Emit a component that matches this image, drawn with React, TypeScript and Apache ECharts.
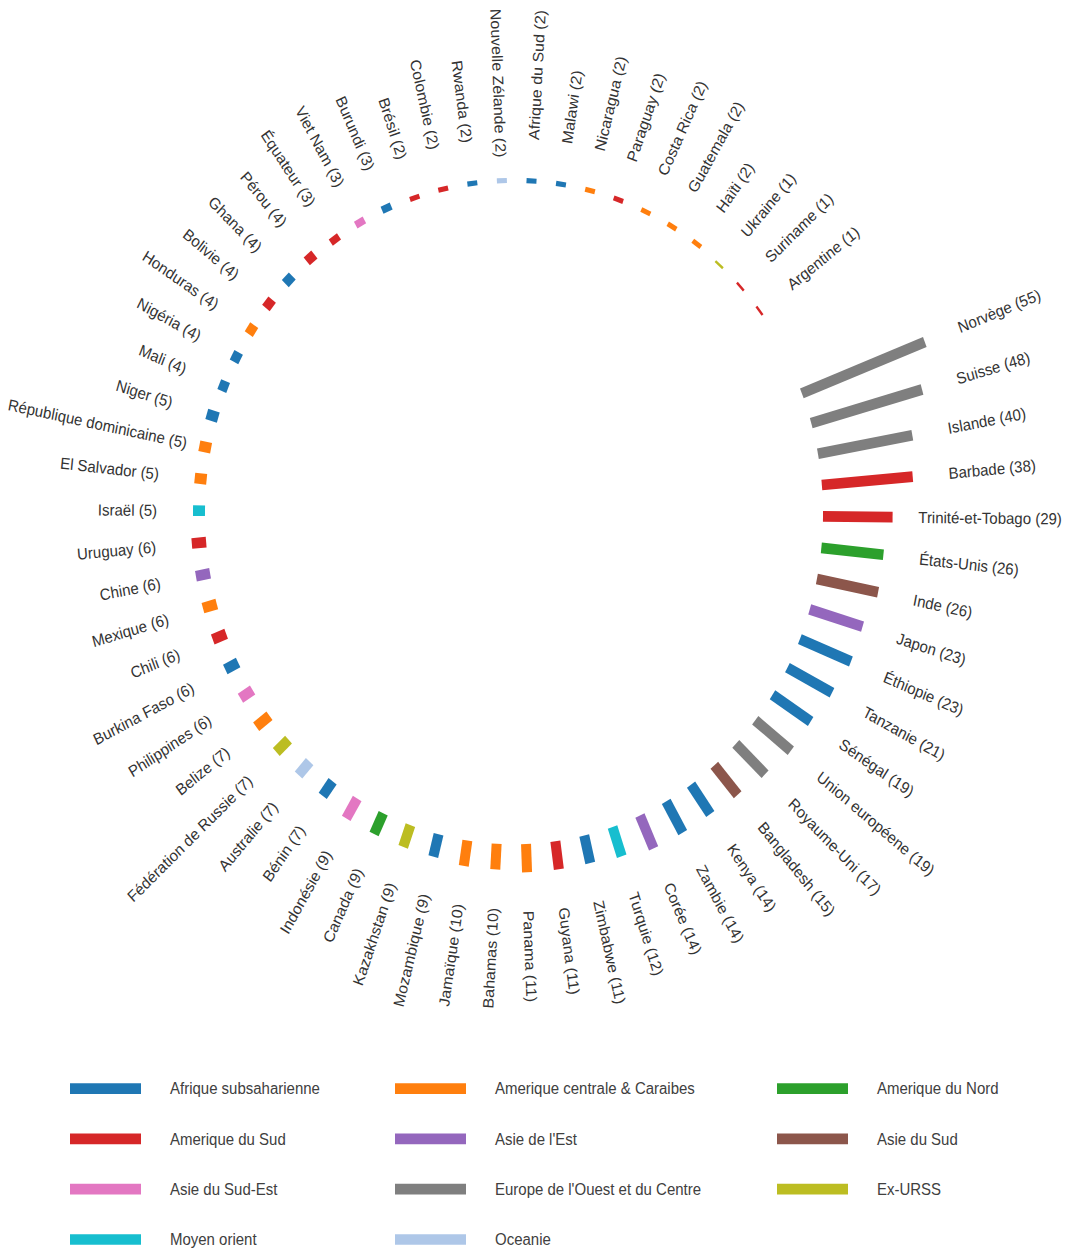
import React, { useEffect, useRef } from "react";
import * as echarts from "echarts";

// Regions (legend order) and their colours
const REGIONS = [
  "Afrique subsaharienne",
  "Amerique centrale & Caraibes",
  "Amerique du Nord",
  "Amerique du Sud",
  "Asie de l'Est",
  "Asie du Sud",
  "Asie du Sud-Est",
  "Europe de l'Ouest et du Centre",
  "Ex-URSS",
  "Moyen orient",
  "Oceanie",
];
const REGION_COLORS = [
  "#1f77b4",
  "#ff7f0e",
  "#2ca02c",
  "#d62728",
  "#9467bd",
  "#8c564b",
  "#e377c2",
  "#7f7f7f",
  "#bcbd22",
  "#17becf",
  "#aec7e8",
];

// Countries, clockwise from Norvège
const COUNTRIES = [
  "Norvège", "Suisse", "Islande", "Barbade", "Trinité-et-Tobago", "États-Unis",
  "Inde", "Japon", "Éthiopie", "Tanzanie", "Sénégal", "Union européene",
  "Royaume-Uni", "Bangladesh", "Kenya", "Zambie", "Corée", "Turquie",
  "Zimbabwe", "Guyana", "Panama", "Bahamas", "Jamaïque", "Mozambique",
  "Kazakhstan", "Canada", "Indonésie", "Bénin", "Australie", "Fédération de Russie",
  "Belize", "Philippines", "Burkina Faso", "Chili", "Mexique", "Chine",
  "Uruguay", "Israël", "El Salvador", "République dominicaine", "Niger", "Mali",
  "Nigéria", "Honduras", "Bolivie", "Ghana", "Pérou", "Équateur",
  "Viet Nam", "Burundi", "Brésil", "Colombie", "Rwanda", "Nouvelle Zélande",
  "Afrique du Sud", "Malawi", "Nicaragua", "Paraguay", "Costa Rica", "Guatemala",
  "Haïti", "Ukraine", "Suriname", "Argentine",
];
const VALUES = [
  55, 48, 40, 38, 29, 26,
  26, 23, 23, 21, 19, 19,
  17, 15, 14, 14, 14, 12,
  11, 11, 11, 10, 10, 9,
  9, 9, 9, 7, 7, 7,
  7, 6, 6, 6, 6, 6,
  6, 5, 5, 5, 5, 4,
  4, 4, 4, 4, 4, 3,
  3, 3, 2, 2, 2, 2,
  2, 2, 2, 2, 2, 2,
  2, 1, 1, 1,
];
// index into REGIONS
const COUNTRY_REGION = [
  7, 7, 7, 3, 3, 2,
  5, 4, 0, 0, 0, 7,
  7, 5, 0, 0, 4, 9,
  0, 3, 1, 1, 1, 0,
  8, 2, 6, 0, 10, 8,
  1, 6, 0, 3, 1, 4,
  3, 9, 1, 1, 0, 0,
  0, 1, 3, 0, 3, 3,
  6, 0, 3, 3, 0, 10,
  0, 0, 1, 3, 1, 1,
  1, 8, 3, 3,
];
// two empty slots close the circle after Argentine
const EMPTY_SLOTS = ["", " "];
const RADIUS_MAX = 60;

const LABEL_GAP = 36;
const EDGE_MARGIN = 8;
const BAR_WIDTH = 10;
const FONT_SIZE = 15;
const FONT = "'Liberation Sans', Arial, sans-serif";

let measureCtx: CanvasRenderingContext2D | null = null;
function textWidth(t: string): number {
  if (!measureCtx) measureCtx = document.createElement("canvas").getContext("2d");
  if (!measureCtx) return t.length * 7.5;
  measureCtx.font = `${FONT_SIZE}px ${FONT}`;
  return measureCtx.measureText(t).width;
}

export default function App() {
  const ref = useRef<HTMLDivElement>(null);

  useEffect(() => {
    if (!ref.current) return;
    const chart = echarts.init(ref.current, null, { renderer: "svg" });
    const slots = [...COUNTRIES, ...EMPTY_SLOTS];

    const series = REGIONS.map((region, r) => {
      const members = COUNTRIES.map((_, i) => i).filter((i) => COUNTRY_REGION[i] === r);
      return {
        type: "custom",
        name: region,
        coordinateSystem: "polar",
        silent: true,
        itemStyle: { color: REGION_COLORS[r] },
        data: members.map((i) => [VALUES[i], i]),
        renderItem: (params: any, api: any) => {
          const idx = members[params.dataIndex];
          const v = api.value(0) as number;
          const k = api.value(1) as number;
          const p0 = api.coord([0, k]);
          const p1 = api.coord([v, k]);
          const pf = api.coord([RADIUS_MAX, k]);
          const dx = pf[0] - p0[0];
          const dy = pf[1] - p0[1];
          const len = Math.hypot(dx, dy) || 1;
          const ux = dx / len;
          const uy = dy / len;
          const theta = Math.atan2(-uy, ux);
          const right = ux >= 0;
          const text = `${COUNTRIES[idx]} (${VALUES[idx]})`;
          const w = textWidth(text);
          const W = api.getWidth();
          const H = api.getHeight();
          // keep the label inside the canvas: shorten its gap if needed
          let gap = LABEL_GAP;
          if (ux < -1e-6) gap = Math.min(gap, (p1[0] - EDGE_MARGIN) / -ux - w);
          if (ux > 1e-6) gap = Math.min(gap, (W - EDGE_MARGIN - p1[0]) / ux - w);
          if (uy < -1e-6) gap = Math.min(gap, (p1[1] - EDGE_MARGIN) / -uy - w);
          if (uy > 1e-6) gap = Math.min(gap, (H - EDGE_MARGIN - p1[1]) / uy - w);
          gap = Math.max(gap, 6);
          const lx = p1[0] + ux * gap;
          const ly = p1[1] + uy * gap;
          return {
            type: "group",
            children: [
              {
                type: "line",
                shape: { x1: p0[0], y1: p0[1], x2: p1[0], y2: p1[1] },
                style: { stroke: REGION_COLORS[r], lineWidth: BAR_WIDTH, lineCap: "butt" },
              },
              {
                type: "text",
                x: lx,
                y: ly,
                rotation: right ? theta : theta - Math.PI,
                style: {
                  text,
                  x: 0,
                  y: 0,
                  align: right ? "left" : "right",
                  verticalAlign: "middle",
                  fill: "#333333",
                  fontSize: FONT_SIZE,
                  fontFamily: FONT,
                },
              },
            ],
          };
        },
      };
    });

    const legendCommon = {
      orient: "vertical",
      top: 1009.4,
      padding: 0,
      itemGap: 31,
      itemWidth: 71,
      itemHeight: 10,
      icon: "rect",
      selectedMode: false,
      textStyle: {
        fontSize: 15,
        lineHeight: 16,
        fontFamily: FONT,
        color: "#404040",
        padding: [0, 0, 0, 24],
      },
    };

    chart.setOption({
      animation: false,
      color: REGION_COLORS,
      polar: { center: [514, 480], radius: [309, 453] },
      angleAxis: {
        type: "category",
        data: slots,
        startAngle: 24.05,
        clockwise: true,
        axisLine: { show: false },
        axisTick: { show: false },
        axisLabel: { show: false },
        splitLine: { show: false },
      },
      radiusAxis: {
        type: "value",
        min: 0,
        max: RADIUS_MAX,
        axisLine: { show: false },
        axisTick: { show: false },
        axisLabel: { show: false },
        splitLine: { show: false },
      },
      legend: [
        { ...legendCommon, left: 70, data: [REGIONS[0], REGIONS[3], REGIONS[6], REGIONS[9]] },
        { ...legendCommon, left: 395, data: [REGIONS[1], REGIONS[4], REGIONS[7], REGIONS[10]] },
        { ...legendCommon, left: 777, data: [REGIONS[2], REGIONS[5], REGIONS[8]] },
      ],
      series,
    } as any);

    return () => chart.dispose();
  }, []);

  return (
    <div
      ref={ref}
      style={{
        position: "absolute",
        left: 0,
        top: 0,
        width: 1070,
        height: 1169,
        transform: "scaleY(1.07)",
        transformOrigin: "0 0",
        background: "#ffffff",
      }}
    />
  );
}
